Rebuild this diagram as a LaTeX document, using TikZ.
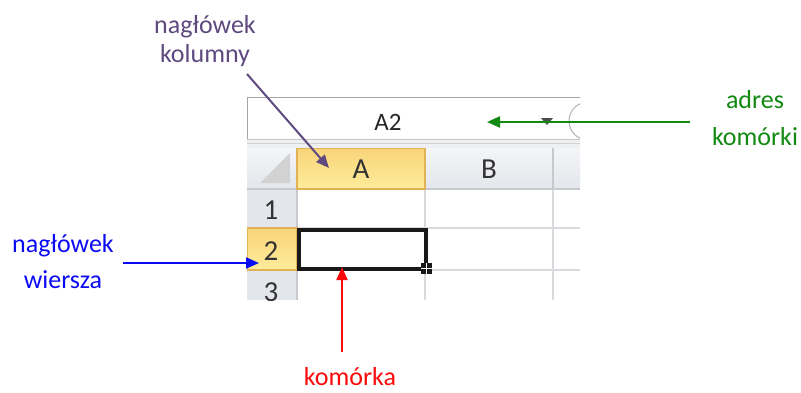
\documentclass[tikz,border=0pt]{standalone}
\usepackage{fontspec}
\setmainfont{Carlito}
\usetikzlibrary{arrows.meta}
\definecolor{cpurple}{HTML}{5F4A80}
\definecolor{cgreen}{HTML}{128A12}
\definecolor{cblue}{HTML}{0A0AF5}
\definecolor{cred}{HTML}{FA0A0A}
\definecolor{hdrgray}{HTML}{E3E6EB}
\definecolor{gridc}{HTML}{D8DADD}
\definecolor{hdrline}{HTML}{C6CACF}
\definecolor{yelTop}{HTML}{F8D47A}
\definecolor{yelBot}{HTML}{FFEC9A}
\definecolor{yelLine}{HTML}{E2B255}
\tikzset{
  lbl/.style={font=\fontsize{26}{29}\selectfont, inner sep=0pt, anchor=base},
  callout/.style={line width=2pt, -{Triangle[length=13pt,width=11pt]}},
  hdrtxt/.style={font=\fontsize{29}{32}\selectfont, text=black!80, inner sep=0pt},
}
\begin{document}
\begin{tikzpicture}[x=1pt,y=-1pt]
\useasboundingbox (0,0) rectangle (801,392);
\fill[white] (0,0) rectangle (801,392);
% ---------- screenshot ----------
\begin{scope}
\clip (247,97) rectangle (580,300);
% name box band
\fill[white] (247,97) rectangle (580,140);
\draw[gray!70, line width=1pt] (247.5,140) -- (247.5,97.5) -- (580,97.5);
\draw[gray!45, line width=1pt] (247,139.5) -- (580,139.5);
\fill[hdrgray!60] (247,140) rectangle (580,148);
\draw[gray!35] (247,143) -- (580,143);
% column header row
\shade[top color=hdrgray!40, bottom color=hdrgray] (247,148) rectangle (580,189);
% row header column
\fill[hdrgray] (247,189) rectangle (297,300);
% cells
\fill[white] (297,189) rectangle (580,300);
% grid lines
\foreach \yy in {228,270} \draw[gridc, line width=1.2pt] (297,\yy) -- (580,\yy);
\foreach \xx in {425,553} \draw[gridc, line width=1.2pt] (\xx,189) -- (\xx,300);
% header separators
\foreach \xx in {425,553} \draw[hdrline, line width=1.2pt] (\xx,148) -- (\xx,189);
\foreach \yy in {228,270} \draw[hdrline, line width=1.2pt] (247,\yy) -- (297,\yy);
\draw[hdrline, line width=1.2pt] (247,189) -- (580,189);
\draw[hdrline, line width=1.2pt] (297,148) -- (297,300);
% corner triangle
\fill[gray!35] (290,153) -- (290,183) -- (260,183) -- cycle;
% highlighted column header A
\shade[top color=yelTop, bottom color=yelBot] (297,148) rectangle (425,189);
\draw[yelLine, line width=1.2pt] (297,148.6) rectangle (425,189);
% highlighted row header 2
\shade[top color=yelTop, bottom color=yelBot] (247,228) rectangle (297,270);
\draw[yelLine, line width=1.2pt] (247,228) rectangle (297,270);
% texts
\node[hdrtxt] (hA) at (361,169) {A};
\node[hdrtxt] (hB) at (489,169) {B};
\node[hdrtxt] (r1) at (271,210) {1};
\node[hdrtxt] (r2) at (271,251) {2};
\node[hdrtxt] (r3) at (271,292) {3};
\node[font=\fontsize{25}{28}\selectfont, text=black!85, inner sep=0pt] (nb) at (388,122) {A2};
% dropdown triangle and circle
\fill[black!70] (541,118) -- (553,118) -- (547,125) -- cycle;
\draw[gray!60, line width=1pt] (588,121) circle (19);
% selected cell
\draw[black!90, line width=4pt] (299,229.5) rectangle (426,268.5);
\fill[black!90] (421,263) rectangle (432,274);
\draw[white, line width=0.8pt] (426.5,263) -- (426.5,274) (421,268.5) -- (432,268.5);
\end{scope}
% ---------- labels ----------
\node[lbl, text=cpurple] (lk1) at (205,33) {nagłówek};
\node[lbl, text=cpurple] (lk2) at (205,62) {kolumny};
\node[lbl, text=cgreen] (la1) at (755,108) {adres};
\node[lbl, text=cgreen] (la2) at (755,145) {komórki};
\node[lbl, text=cblue] (lw1) at (63,252) {nagłówek};
\node[lbl, text=cblue] (lw2) at (63,288) {wiersza};
\node[lbl, text=cred] (lc) at (350,385) {komórka};
% ---------- connectors ----------
\coordinate (kS) at (247,74);
\coordinate (kT) at (329,168);
\coordinate (aS) at (690,122);
\coordinate (aT) at (487,122);
\coordinate (wS) at (123,263);
\coordinate (wT) at (259,263);
\coordinate (cS) at (342,352);
\coordinate (cT) at (342,267);
\draw[callout, cpurple] (kS) -- (kT);
\draw[callout, cgreen] (aS) -- (aT);
\draw[callout, cblue] (wS) -- (wT);
\draw[callout, cred] (cS) -- (cT);
\end{tikzpicture}
\end{document}
